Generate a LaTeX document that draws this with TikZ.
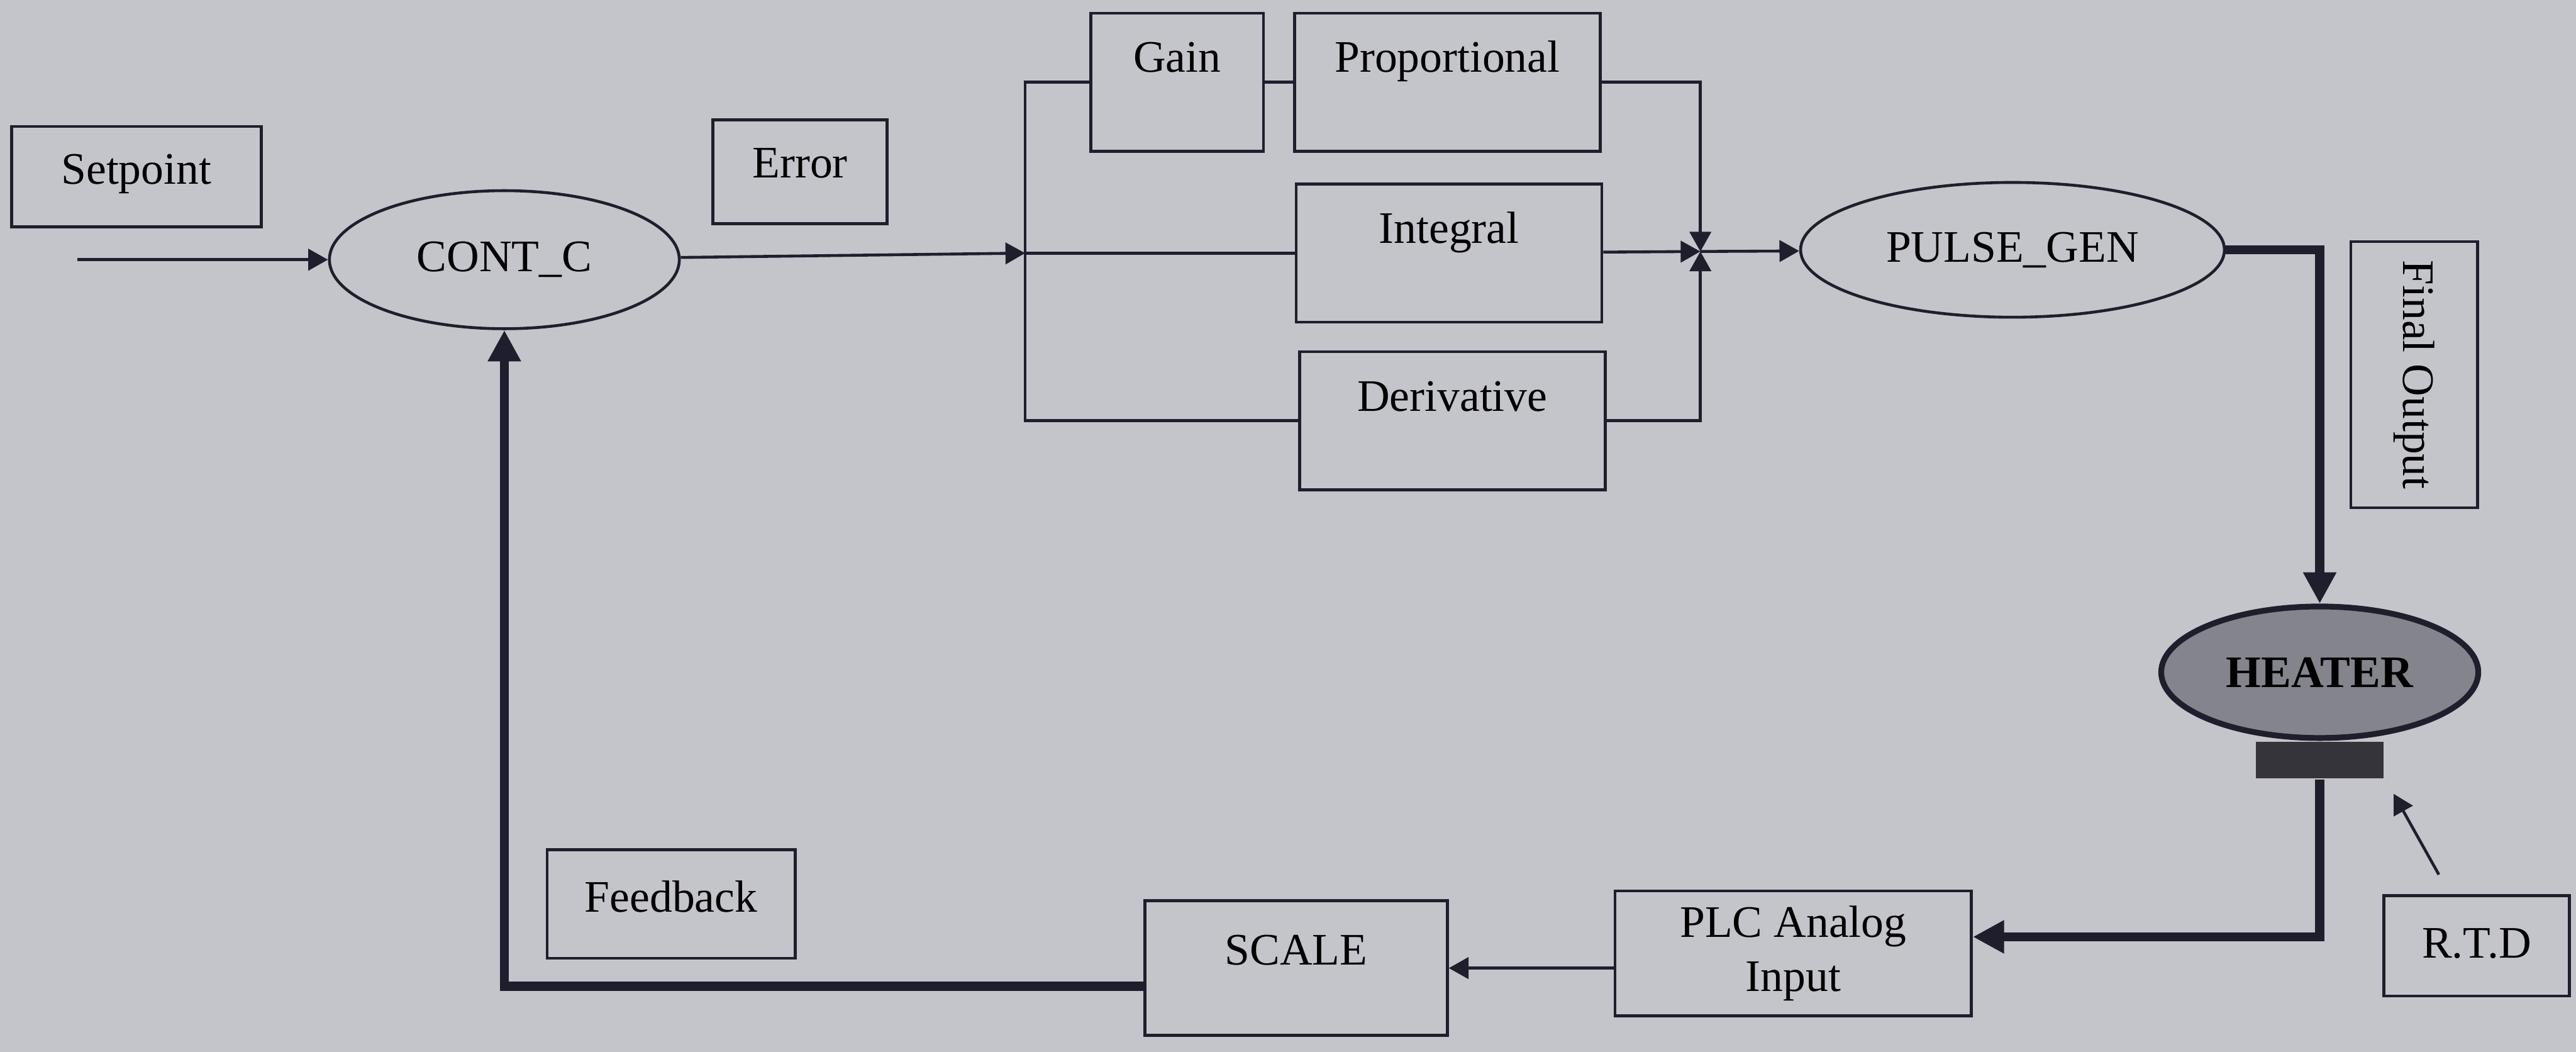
\documentclass[tikz,border=0pt]{standalone}
\usepackage{fontspec}
\setmainfont{Liberation Serif}
\usetikzlibrary{arrows.meta,positioning,shapes.geometric}
\definecolor{paper}{RGB}{196, 196, 203}
\definecolor{ink}{RGB}{30, 30, 45}
\definecolor{heatgray}{RGB}{132, 132, 140}
\definecolor{probegray}{RGB}{52, 52, 58}

\begin{document}
\begin{tikzpicture}[font=\fontsize{7.8}{9.4}\selectfont,
    box/.style={rectangle, draw=ink, line width=0.5pt, inner sep=0pt, align=center},
    tag/.style={box, text height=3.5mm, text depth=2.6mm},
    pid/.style={box, minimum width=1.86cm, text height=3.6mm, text depth=4.8mm},
    blob/.style={ellipse, draw=ink, line width=0.5pt, inner sep=0pt},
    wire/.style={line width=0.5pt, color=ink},
    arr/.style={wire, -{Triangle[length=1.2mm, width=1.3mm]}},
    fat/.style={-{Triangle[length=1.9mm, width=1.9mm]}, line width=1.6pt, color=ink}]

    \fill[paper] (0,0) rectangle (15.68,6.40);
    \useasboundingbox (0,0) rectangle (15.68,6.40);

    \node[tag, minimum width=1.52cm] (setp) at (0.83,5.325) {Setpoint};
    \node[tag, minimum width=1.06cm, text depth=2.8mm] (err) at (4.87,5.355) {Error};
    \node[blob, minimum width=2.13cm, minimum height=0.84cm] (cont) at (3.07,4.82) {CONT\_C};

    \node[pid, minimum width=1.05cm] (gain) at (7.165,5.90) {Gain};
    \node[pid] (prop)  at (8.81,5.90) {Proportional};
    \node[pid] (integ) at (8.82,4.86) {Integral};
    \node[pid] (deriv) at (8.84,3.84) {Derivative};

    \node[blob, minimum width=2.58cm, minimum height=0.82cm] (pulse) at (12.25,4.88) {PULSE\_GEN};
    \node[box, rotate=-90, minimum width=1.62cm, minimum height=0.77cm,
          text height=1.8mm, text depth=0.5mm] (fout) at (14.695,4.12) {Final Output};

    \node[blob, line width=1pt, fill=heatgray, minimum width=1.93cm, minimum height=0.80cm,
          font=\fontsize{7.8}{9.4}\selectfont\bfseries] (heater) at (14.12,2.31) {HEATER};
    \node[rectangle, fill=probegray, minimum width=0.78cm, minimum height=0.22cm,
          inner sep=0pt, below=0pt of heater] (probe) {};
    \node[tag, minimum width=1.13cm, text height=3.8mm, text depth=2.3mm] (rtd) at (15.075,0.645) {R.T.D};

    \node[box, minimum width=2.17cm, minimum height=0.76cm] (plc) at (10.915,0.60) {PLC Analog\\Input};
    \node[tag, minimum width=1.84cm, text height=3.9mm, text depth=4.3mm] (scale) at (7.89,0.51) {SCALE};
    \node[tag, minimum width=1.51cm, text height=3.8mm, text depth=2.8mm] (fbk) at (4.085,0.90) {Feedback};

    \coordinate (spin)  at (0.47,4.82);
    \coordinate (jn)    at (6.24,4.86);
    \coordinate (sum)   at (10.35,4.87);
    \coordinate (sense) at (14.57,1.57);

    \draw[arr] (spin) -- (cont);
    \draw[arr] (cont) -- (jn);
    \draw[wire] (gain.west) -| (jn) |- (deriv.west);
    \draw[wire] (jn) -- (integ);
    \draw[wire] (gain) -- (prop);
    \draw[arr] (prop.east) -| (sum);
    \draw[arr] (integ) -- (sum);
    \draw[arr] (deriv.east) -| (sum);
    \draw[arr] (sum) -- (pulse);

    \draw[fat] (pulse.east) -| (heater.north);
    \draw[fat] (probe.south) |- ([yshift=1mm]plc.east);
    \draw[arr] (plc.west |- scale.east) -- (scale.east);
    \draw[fat] ([yshift=-1.1mm]scale.west) -| (cont.south);
    \draw[arr] ([xshift=-2.3mm,yshift=1.2mm]rtd.north) -- (sense);

\end{tikzpicture}
\end{document}
